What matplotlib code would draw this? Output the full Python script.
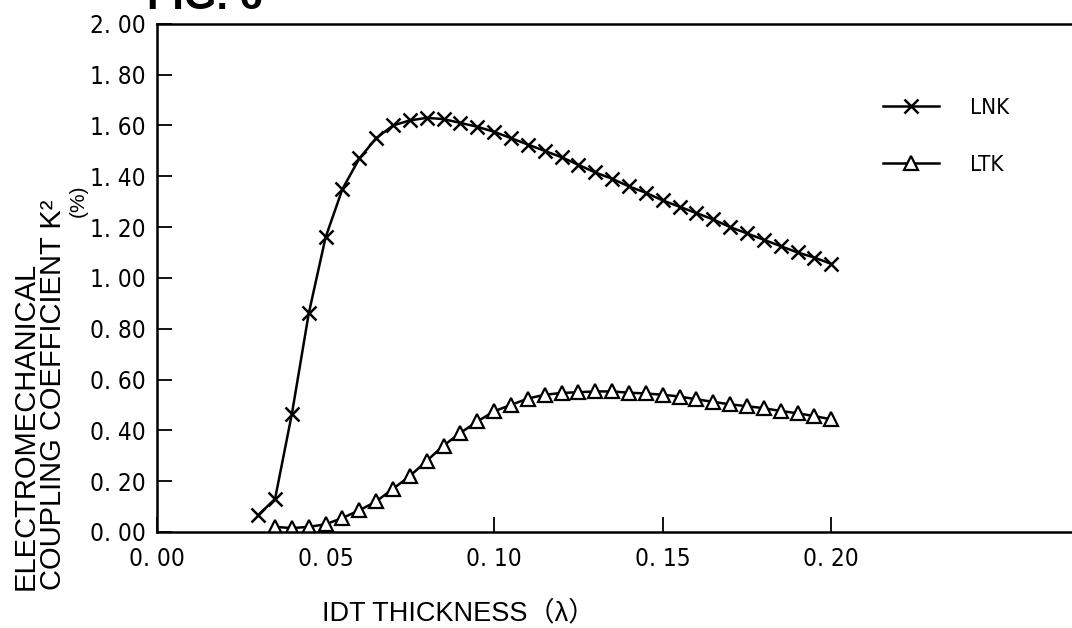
import matplotlib
matplotlib.use("Agg")
import matplotlib.pyplot as plt

# IDT thickness (lambda) and coupling coefficient K^2 (%)
lnk_x = [0.030, 0.035, 0.040, 0.045, 0.050, 0.055, 0.060, 0.065, 0.070, 0.075,
         0.080, 0.085, 0.090, 0.095, 0.100, 0.105, 0.110, 0.115, 0.120, 0.125,
         0.130, 0.135, 0.140, 0.145, 0.150, 0.155, 0.160, 0.165, 0.170, 0.175,
         0.180, 0.185, 0.190, 0.195, 0.200]
lnk_k2 = [0.066, 0.13, 0.465, 0.86, 1.16, 1.35, 1.47, 1.55, 1.60, 1.62,
          1.63, 1.625, 1.61, 1.595, 1.575, 1.55, 1.525, 1.50, 1.475, 1.445,
          1.415, 1.39, 1.36, 1.335, 1.305, 1.28, 1.255, 1.23, 1.20, 1.175,
          1.15, 1.125, 1.10, 1.08, 1.055]

ltk_x = [0.035, 0.040, 0.045, 0.050, 0.055, 0.060, 0.065, 0.070, 0.075, 0.080,
         0.085, 0.090, 0.095, 0.100, 0.105, 0.110, 0.115, 0.120, 0.125, 0.130,
         0.135, 0.140, 0.145, 0.150, 0.155, 0.160, 0.165, 0.170, 0.175, 0.180,
         0.185, 0.190, 0.195, 0.200]
ltk_k2 = [0.02, 0.015, 0.02, 0.03, 0.055, 0.085, 0.12, 0.17, 0.22, 0.28,
          0.34, 0.39, 0.435, 0.475, 0.50, 0.525, 0.54, 0.547, 0.55, 0.553,
          0.553, 0.548, 0.545, 0.54, 0.533, 0.522, 0.512, 0.502, 0.495, 0.487,
          0.476, 0.467, 0.456, 0.443]

x_ticks = [0.00, 0.05, 0.10, 0.15, 0.20]
x_ticklabels = ["0. 00", "0. 05", "0. 10", "0. 15", "0. 20"]
y_ticks = [0.0, 0.2, 0.4, 0.6, 0.8, 1.0, 1.2, 1.4, 1.6, 1.8, 2.0]
y_ticklabels = ["0. 00", "0. 20", "0. 40", "0. 60", "0. 80", "1. 00",
                "1. 20", "1. 40", "1. 60", "1. 80", "2. 00"]

narrow = ["DejaVu Sans"]
sans = ["Liberation Sans", "Noto Sans CJK JP", "DejaVu Sans"]

fig = plt.figure(figsize=(10.72, 6.28), dpi=100)
ax = fig.add_axes([0.1465, 0.153, 0.8535, 0.809])

ax.plot(lnk_x, lnk_k2, color="black", lw=1.8, marker="x", ms=10,
        mew=1.8, label="LNK")
ax.plot(ltk_x, ltk_k2, color="black", lw=1.8, marker="^", ms=10,
        mew=1.6, mfc="white", label="LTK")

ax.set_xlim(0, 0.2714)
ax.set_ylim(0, 2.0)
ax.set_xticks(x_ticks)
ax.set_xticklabels(x_ticklabels, family=narrow, stretch="condensed",
                   fontsize=17.5)
ax.set_yticks(y_ticks)
ax.set_yticklabels(y_ticklabels, family=narrow, stretch="condensed",
                   fontsize=17.5)
ax.tick_params(direction="in", length=11, width=1.3, pad=8)
ax.tick_params(axis="x", pad=11)

for side in ["left", "bottom", "top"]:
    ax.spines[side].set_linewidth(1.8)
ax.spines["right"].set_visible(False)

leg = ax.legend(loc="upper left", bbox_to_anchor=(883 / 1072, 1 - 98 / 628),
                bbox_transform=fig.transFigure, frameon=False,
                borderaxespad=0, borderpad=0,
                handlelength=2.5, handletextpad=1.4, labelspacing=1.65,
                prop={"family": narrow, "stretch": "condensed", "size": 16})

fig.text(12 / 1072, 1 - 590 / 628,
         "ELECTROMECHANICAL\nCOUPLING COEFFICIENT K\u00b2",
         rotation=90, ha="left", va="bottom", multialignment="left",
         family=sans, fontsize=21, linespacing=0.95)
fig.text(78 / 1072, 1 - 201 / 628, "(%)", rotation=90, ha="center",
         va="center", family=sans, fontsize=15)
fig.text(459 / 1072, 1 - 613 / 628, "IDT THICKNESS\uff08\u03bb\uff09",
         ha="center", va="center", family=sans, fontsize=19.5)
fig.text(147 / 1072, 1 - 9 / 628, "FIG. 6", ha="left", va="baseline",
         family=sans, fontsize=30, fontweight="bold")

fig.savefig("out.png", dpi=100)
